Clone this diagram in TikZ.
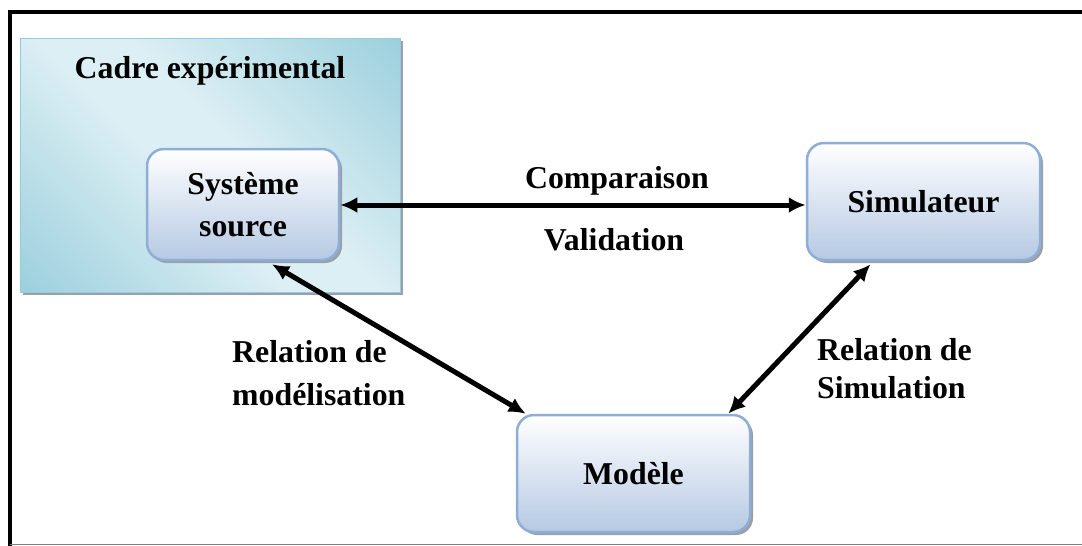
\documentclass[tikz,border=0pt]{standalone}
\usepackage{fontspec}
\setmainfont{Liberation Serif}
\usetikzlibrary{arrows.meta,shadows}
\definecolor{boxborder}{HTML}{8EAED6}
\definecolor{boxbot}{HTML}{B5C9E3}
\definecolor{cadreborder}{HTML}{93CDDD}
\definecolor{cadredark}{HTML}{92CBDA}
\definecolor{cadrelight}{HTML}{DCEFF4}
\definecolor{shadowgray}{HTML}{9A9FA8}
\pgfdeclarehorizontalshading{cadreshade}{100bp}{color(0bp)=(cadredark); color(10bp)=(cadredark); color(45bp)=(cadrelight); color(55bp)=(cadrelight); color(90bp)=(cadredark); color(100bp)=(cadredark)}
\tikzset{
  lbl/.style={font=\fontsize{31.8}{42}\selectfont\bfseries, inner sep=0pt},
  box/.style={draw=boxborder, line width=2.5pt, rounded corners=17pt,
    top color=white, bottom color=boxbot, align=center,
    font=\fontsize{31.8}{42}\selectfont\bfseries,
    drop shadow={shadow xshift=3pt, shadow yshift=-3pt, fill=shadowgray, opacity=1}},
  arr/.style={line width=5pt, {Latex[length=17pt,width=16pt]}-{Latex[length=17pt,width=16pt]}},
}
\begin{document}
\begin{tikzpicture}[x=1pt,y=-1pt]
\useasboundingbox (0,0) rectangle (1082,546);
% outer frame
\draw[line width=4pt] (10,546) |- (1082,12);
\draw[line width=1pt, gray] (10,544.5) -- (1082,544.5);
% experimental frame
\node[draw=cadreborder, line width=1pt, shading=cadreshade, shading angle=45,
  minimum width=380pt, minimum height=254pt, inner sep=0pt,
  drop shadow={shadow xshift=3pt, shadow yshift=-3pt, fill=shadowgray, opacity=1}]
  (cadre) at (210,165) {};
\node[lbl] (cadretitle) at (210,71) {Cadre expérimental};
% boxes
\node[box, minimum width=192pt, minimum height=111pt] (sys) at (243,204.5) {Système\\source};
\node[box, minimum width=233pt, minimum height=117pt] (sim) at (923.5,201.5) {Simulateur};
\node[box, minimum width=233pt, minimum height=117pt] (mod) at (633.5,473.5) {Modèle};
% arrows
\draw[arr] ([yshift=-0.5pt]sys.east) -- ([yshift=-0.5pt]sys.east -| sim.west);
\draw[arr] ([xshift=29pt,yshift=-3pt]sys.south) -- ([xshift=10pt]mod.north west);
\draw[arr] ([xshift=-53pt,yshift=-3pt]sim.south) -- ([xshift=-23pt]mod.north east);
% labels
\node[lbl] (comp) at (617,181) {Comparaison};
\node[lbl] (valid) at (614,240) {Validation};
\node[lbl, anchor=base west] (rm1) at (232,362) {Relation de};
\node[lbl, anchor=base west] (rm2) at (232,405) {modélisation};
\node[lbl, anchor=base west] (rs1) at (817,360) {Relation de};
\node[lbl, anchor=base west] (rs2) at (817,398) {Simulation};
\end{tikzpicture}
\end{document}
